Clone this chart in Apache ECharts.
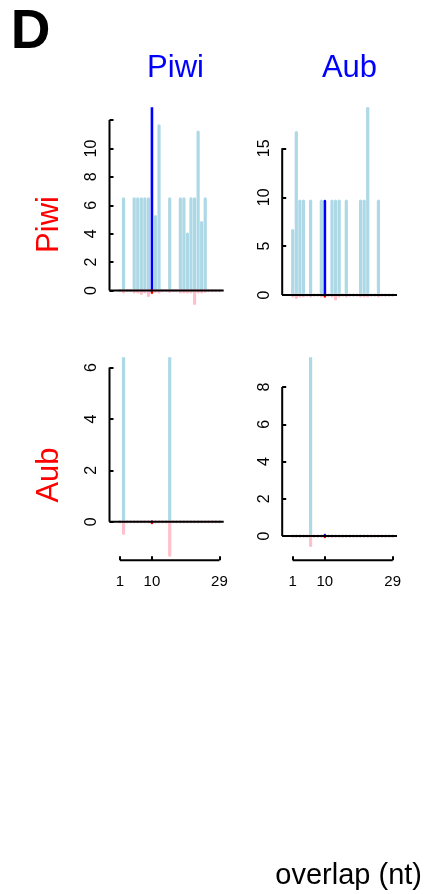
<!DOCTYPE html>
<html><head><meta charset="utf-8">
<script src="https://cdn.jsdelivr.net/npm/echarts@6/dist/echarts.min.js"></script>
<style>html,body{margin:0;padding:0;background:#fff}#c{width:427px;height:894px}</style>
</head><body><div id="c"></div>
<script>
// ---- data ----
const positions = [1,2,3,4,5,6,7,8,9,10,11,12,13,14,15,16,17,18,19,20,21,22,23,24,25,26,27,28,29];
const highlightPos = 10;
const panelLetter = 'D';
const colNames = ['Piwi', 'Aub'];
const rowNames = ['Piwi', 'Aub'];
const xLabel = 'overlap (nt)';
const xTicks = [1, 10, 29];

// row Piwi, column Piwi
const piwiPiwiUp   = [0,6.45,0,0,6.45,6.45,6.45,6.45,6.45,13.5,5.2,11.6,0,0,6.45,0,0,6.45,6.45,3.98,6.45,6.45,11.15,4.78,6.45,0,0,0,0];
const piwiPiwiDown = [0,-0.1,0,0,-0.1,-0.1,-0.2,-0.1,-0.35,-0.15,-0.05,-0.1,0,0,-0.05,0,0,-0.1,-0.1,-0.1,-0.1,-0.95,-0.1,-0.1,-0.05,0,0,0,0];
const piwiPiwiTicks = [0,2,4,6,8,10,12];
const piwiPiwiLabels = [0,2,4,6,8,10];
// row Piwi, column Aub
const piwiAubUp   = [6.6,16.6,9.6,9.6,0,9.6,0,0,9.6,9.6,0,9.6,9.6,9.6,0,9.6,0,0,0,9.6,9.6,19.6,0,0,9.6,0,0,0,0];
const piwiAubDown = [-0.1,-0.25,-0.1,-0.1,0,-0.1,0,0,-0.1,-0.15,0,-0.1,-0.4,-0.1,0,-0.1,0,0,0,-0.1,-0.1,-0.1,0,0,-0.1,0,0,0,0];
const piwiAubTicks = [0,5,10,15];
// row Aub, column Piwi
const aubPiwiUp   = [0,6.8,0,0,0,0,0,0,0,0,0,0,0,0,6.8,0,0,0,0,0,0,0,0,0,0,0,0,0,0];
const aubPiwiDown = [0,-0.45,0,0,0,0,0,0,0,-0.05,0,0,0,0,-1.3,0,0,0,0,0,0,0,0,0,0,0,0,0,0];
const aubPiwiTicks = [0,2,4,6];
// row Aub, column Aub
const aubAubUp   = [0,0,0,0,0,10,0,0,0,0.05,0,0,0,0,0,0,0,0,0,0,0,0,0,0,0,0,0,0,0];
const aubAubDown = [0,0,0,0,0,-0.5,0,0,0,-0.05,0,0,0,0,0,0,0,0,0,0,0,0,0,0,0,0,0,0,0];
const aubAubTicks = [0,2,4,6,8];

// ---- layout / styling ----
const FONT = 'Liberation Sans, Arial, sans-serif';
const X_MIN = -1.95, X_MAX = 30.2;
const panels = [
  {up: piwiPiwiUp, down: piwiPiwiDown, ticks: piwiPiwiTicks, labels: piwiPiwiLabels, yMin: -1.0, yMax: 12.9, left: 109.5, top: 107.3, width: 114.2, height: 197.5, bottom: false},
  {up: piwiAubUp,  down: piwiAubDown,  ticks: piwiAubTicks,  labels: piwiAubTicks,  yMin: -1.0, yMax: 19.2, left: 282.2, top: 107.3, width: 114.8, height: 197.5, bottom: false},
  {up: aubPiwiUp,  down: aubPiwiDown,  ticks: aubPiwiTicks,  labels: aubPiwiTicks,  yMin: -1.5, yMax: 6.4,  left: 109.5, top: 357.3, width: 114.2, height: 203, bottom: true},
  {up: aubAubUp,   down: aubAubDown,   ticks: aubAubTicks,   labels: aubAubTicks,   yMin: -1.3, yMax: 9.6,  left: 282.2, top: 357.3, width: 114.8, height: 203, bottom: true}
];

function barRenderer(color, hiColor, w, hiW) {
  return function (params, api) {
    const x = api.value(0), v = api.value(1);
    const hi = x === highlightPos;
    const lw = hi ? hiW : w;
    const p0 = api.coord([x, 0]);
    const p1 = api.coord([x, v]);
    const y1 = Math.min(p0[1], p1[1]) - lw / 2;
    const y2 = Math.max(p0[1], p1[1]) + lw / 2;
    return {
      type: 'rect',
      shape: {x: p0[0] - lw / 2, y: y1, width: lw, height: y2 - y1, r: lw / 2},
      style: {fill: hi ? hiColor : color}
    };
  };
}

const grids = [], xAxes = [], yAxes = [], series = [];
panels.forEach((p, i) => {
  grids.push({left: p.left, top: p.top, width: p.width, height: p.height, containLabel: false});
  xAxes.push({
    gridIndex: i, type: 'value', min: X_MIN, max: X_MAX, position: 'bottom',
    axisLine: {show: false, onZero: false}, splitLine: {show: false},
    axisTick: {show: p.bottom, inside: true, length: 4, customValues: xTicks, lineStyle: {color: '#000', width: 2}},
    axisLabel: {show: p.bottom, customValues: xTicks, margin: 14, color: '#000', fontSize: 15, fontFamily: FONT}
  });
  yAxes.push({
    gridIndex: i, type: 'value', min: p.yMin, max: p.yMax, position: 'left',
    axisLine: {show: false, onZero: false}, splitLine: {show: false},
    axisTick: {show: true, inside: true, length: 4, customValues: p.ticks, lineStyle: {color: '#000', width: 2}},
    axisLabel: {customValues: p.labels, rotate: 90, margin: 10, color: '#000', fontSize: 16, fontFamily: FONT}
  });
  series.push({
    type: 'custom', xAxisIndex: i, yAxisIndex: i, clip: true, z: 2, silent: true,
    data: positions.map((x, k) => [x, p.up[k]]),
    renderItem: barRenderer('#ADD8E6', '#0000FF', 3.2, 2.6)
  });
  series.push({
    type: 'custom', xAxisIndex: i, yAxisIndex: i, clip: true, z: 3, silent: true,
    data: positions.map((x, k) => [x, p.down[k]]),
    renderItem: barRenderer('#FFC0CB', '#FF0000', 3.2, 2.6)
  });
  // zero line
  series.push({
    type: 'line', xAxisIndex: i, yAxisIndex: i, z: 5, silent: true, symbol: 'none', clip: false,
    lineStyle: {color: '#000', width: 2}, data: [[X_MIN, 0], [X_MAX, 0]]
  });
  // y axis line from first to last tick
  series.push({
    type: 'line', xAxisIndex: i, yAxisIndex: i, z: 5, silent: true, symbol: 'none', clip: false,
    lineStyle: {color: '#000', width: 2}, data: [[X_MIN, p.ticks[0]], [X_MIN, p.ticks[p.ticks.length - 1]]]
  });
  if (p.bottom) {
    series.push({
      type: 'line', xAxisIndex: i, yAxisIndex: i, z: 5, silent: true, symbol: 'none', clip: false,
      lineStyle: {color: '#000', width: 2}, data: [[xTicks[0], p.yMin], [xTicks[xTicks.length - 1], p.yMin]]
    });
  }
});

function txt(text, x, y, size, color, opts) {
  opts = opts || {};
  return {
    type: 'text', x: x, y: y, rotation: opts.rotation || 0, silent: true,
    style: {
      text: text, fill: color,
      font: (opts.bold ? 'bold ' : '') + size + 'px ' + FONT,
      textAlign: opts.align || 'center', textVerticalAlign: opts.valign || 'middle',
      align: opts.align || 'center', verticalAlign: opts.valign || 'middle'
    }
  };
}

const graphic = [
  txt(panelLetter, 30.5, 33, 55, '#000', {bold: true}),
  txt(colNames[0], 175.5, 68, 31, '#0000FF'),
  txt(colNames[1], 349.5, 68, 31, '#0000FF'),
  txt(rowNames[0], 49, 224.5, 31, '#FF0000', {rotation: Math.PI / 2}),
  txt(rowNames[1], 49, 475, 31, '#FF0000', {rotation: Math.PI / 2}),
  txt(xLabel, 422, 876, 29, '#000', {align: 'right'})
];

const chart = echarts.init(document.getElementById('c'), null, {renderer: 'canvas'});
chart.setOption({
  animation: false,
  backgroundColor: '#fff',
  grid: grids, xAxis: xAxes, yAxis: yAxes, series: series, graphic: graphic
});
</script>
</body></html>
